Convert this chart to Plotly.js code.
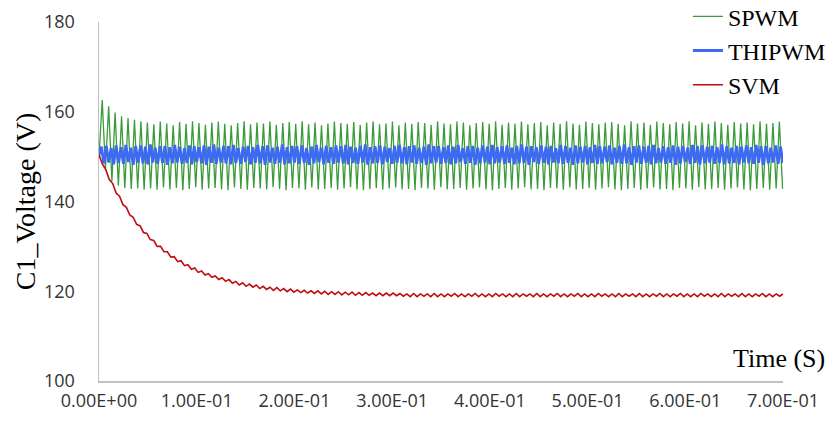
<!DOCTYPE html>
<html><head><meta charset="utf-8">
<script src="https://cdn.plot.ly/plotly-3.0.1.min.js"></script>
<style>html,body{margin:0;padding:0;background:#fff}#chart{width:836px;height:425px}</style>
</head><body><div id="chart"></div>
<script>
const seriesNames = ['SPWM', 'THIPWM', 'SVM'];
const xTickValues = [0, 0.1, 0.2, 0.3, 0.4, 0.5, 0.6, 0.7];
const xTickLabels = ['0.00E+00', '1.00E-01', '2.00E-01', '3.00E-01', '4.00E-01', '5.00E-01', '6.00E-01', '7.00E-01'];
const yTickValues = [100, 120, 140, 160, 180];
const xTitle = 'Time (S)';
const yTitle = 'C1_Voltage (V)';

// sampling intervals (s)
const spwmStep = 0.0033;
const thipwmStep = 0.0025;
const svmStep = 0.0035;

const spwmVoltage = [150.0,
162.6,147.3,161.2,144.6,159.8,143.5,159.0,143.0,158.6,142.8,158.2,142.9,157.9,142.6,
157.6,142.9,157.2,142.6,157.8,143.1,157.4,142.7,157.0,143.0,157.7,142.5,157.3,142.8,157.9,143.2,157.5,142.6,157.1,142.9,
157.6,143.0,157.8,142.7,157.3,142.5,157.0,143.1,157.5,142.8,157.9,142.6,157.2,143.0,157.6,142.9,157.4,142.7,157.8,143.2,
157.1,142.8,157.5,142.5,157.7,143.0,157.3,142.9,157.9,142.6,157.2,143.1,157.6,142.7,157.0,142.8,157.4,143.0,157.8,142.6,
157.5,142.9,157.3,143.2,157.7,142.7,157.1,142.5,157.6,142.8,157.9,143.0,157.2,142.6,157.4,142.9,157.8,143.1,157.0,142.7,
157.6,142.8,157.3,142.5,157.7,143.0,157.5,142.9,157.1,142.6,157.9,143.2,157.4,142.7,157.2,142.8,157.8,143.0,157.6,142.6,
157.0,142.9,157.5,143.1,157.7,142.7,157.3,142.5,157.9,142.8,157.1,143.0,157.6,142.6,157.4,142.9,157.8,143.2,157.2,142.7,
157.5,142.8,157.7,142.5,157.0,143.0,157.6,142.9,157.3,142.6,157.9,143.1,157.4,142.7,157.1,142.8,157.8,143.0,157.5,142.6,
157.2,142.9,157.6,143.2,157.7,142.7,157.3,142.5,157.0,142.8,157.9,143.0,157.4,142.6,157.6,142.9,157.1,143.1,157.8,142.7,
157.5,142.8,157.2,142.5,157.7,143.0,157.4,142.9,157.9,142.6,157.0,143.2,157.6,142.7,157.3,142.8,157.8,143.0,157.5,142.6,
157.1,142.9,157.7,143.1,157.4,142.7,157.6,142.5,157.2,142.8,157.9,143.0,157.3,142.6,157.5,142.9,157.8,142.8];

const thipwmVoltage = [150.3,
152.2,148.5,152.4,148.7,151.9,148.3,152.5,148.6,152.1,148.4,152.6,148.8,152.0,148.2,152.3,148.6,152.5,148.5,152.2,148.3,
152.7,148.7,152.0,148.4,152.3,148.6,152.4,148.2,152.1,148.5,152.6,148.7,152.2,148.4,151.9,148.6,152.5,148.3,152.3,148.8,
152.1,148.5,152.5,148.2,152.2,148.6,152.7,148.4,152.0,148.7,152.4,148.5,152.3,148.3,152.6,148.6,151.9,148.4,152.2,148.8,
152.4,148.3,152.1,148.6,152.6,148.5,152.3,148.2,152.5,148.7,152.0,148.4,152.2,148.6,152.7,148.3,152.1,148.5,152.4,148.7,
152.3,148.4,152.5,148.6,151.9,148.2,152.2,148.5,152.6,148.8,152.0,148.3,152.4,148.6,152.1,148.4,152.5,148.7,152.3,148.5,
152.6,148.3,152.2,148.6,152.0,148.4,152.4,148.7,152.7,148.2,152.1,148.5,152.3,148.6,152.5,148.3,152.2,148.8,151.9,148.4,
152.4,148.6,152.6,148.5,152.1,148.3,152.3,148.7,152.5,148.4,152.0,148.6,152.2,148.2,152.7,148.5,152.3,148.7,152.4,148.4,
152.1,148.6,152.5,148.3,152.2,148.5,152.6,148.8,151.9,148.4,152.3,148.6,152.4,148.2,152.0,148.5,152.5,148.7,152.2,148.3,
152.6,148.5,152.1,148.7,152.3,148.4,152.5,148.6,152.0,148.3,152.4,148.5,152.7,148.6,152.2,148.2,152.3,148.8,152.1,148.4,
152.5,148.6,152.2,148.3,152.4,148.7,151.9,148.5,152.6,148.4,152.3,148.6,152.0,148.2,152.5,148.5,152.2,148.7,152.4,148.3,
152.1,148.6,152.6,148.4,152.3,148.5,152.2,148.8,152.5,148.3,152.0,148.6,152.4,148.4,152.7,148.5,152.1,148.2,152.3,148.7,
152.5,148.4,152.2,148.6,152.4,148.3,152.6,148.5,151.9,148.7,152.3,148.4,152.1,148.6,152.5,148.2,152.2,148.5,152.4,148.8,
152.0,148.4,152.6,148.6,152.3,148.3,152.5,148.5,152.2,148.7,152.4,148.4,152.1,148.6,152.7,148.3,152.3,148.5,152.0,148.6,
152.4,148.3,152.2,148.7,152.5,148.5,152.1,148.4,152.6,148.6,152.3,148.2,152.4,148.5,152.0,148.7,152.5,148.4,152.2,148.6];

const svmVoltage = [
150.4,148.3,147.1,144.9,144.0,141.9,141.2,139.3,138.7,137.0,
136.5,134.9,134.6,133.1,132.9,131.5,131.3,130.0,130.0,128.8,
128.8,127.6,127.7,126.6,126.8,125.7,125.9,124.9,125.2,124.2,
124.5,123.6,123.9,123.1,123.4,122.6,123.0,122.2,122.6,121.8,
122.2,121.4,121.9,121.1,121.6,120.9,121.4,120.6,121.1,120.4,
120.9,120.2,120.8,120.1,120.6,119.9,120.5,119.8,120.3,119.7,
120.2,119.6,120.1,119.5,120.1,119.4,120.0,119.3,119.9,119.3,
119.9,119.2,119.8,119.2,119.8,119.1,119.7,119.1,119.7,119.1,
119.6,119.0,119.6,119.0,119.6,119.0,119.6,119.0,119.5,118.9,
119.4,118.8,119.5,118.8,119.4,118.9,119.4,118.8,119.5,118.8,
119.4,118.8,119.4,118.9,119.5,118.8,119.4,118.8,119.4,118.9,
119.5,118.8,119.4,118.8,119.4,118.8,119.5,118.9,119.4,118.8,
119.4,118.8,119.5,118.8,119.4,118.9,119.4,118.8,119.5,118.8,
119.4,118.8,119.4,118.9,119.5,118.8,119.4,118.8,119.4,118.9,
119.5,118.8,119.4,118.8,119.4,118.8,119.5,118.9,119.4,118.8,
119.4,118.8,119.5,118.8,119.4,118.9,119.4,118.8,119.5,118.8,
119.4,118.8,119.4,118.9,119.5,118.8,119.4,118.8,119.4,118.9,
119.5,118.8,119.4,118.8,119.4,118.8,119.5,118.9,119.4,118.8,
119.4,118.8,119.5,118.8,119.4,118.9,119.4,118.8,119.5,118.8,
119.4,118.8,119.4,118.9,119.5,118.8,119.4,118.8,119.4,118.9,
119.4];

function timeAxis(n, step) {
  return Array.from({length: n}, (_, i) => +(i * step).toFixed(6));
}

const serif = '"Liberation Serif", "Times New Roman", serif';
const sans = '"Open Sans", "Noto Sans", sans-serif';

const traces = [
  {type: 'scatter', mode: 'lines', name: seriesNames[0],
   x: timeAxis(spwmVoltage.length, spwmStep), y: spwmVoltage,
   line: {color: '#3a9b3a', width: 1.3, simplify: false}},
  {type: 'scatter', mode: 'lines', name: seriesNames[1],
   x: timeAxis(thipwmVoltage.length, thipwmStep), y: thipwmVoltage,
   line: {color: '#3d6af5', width: 2.8, simplify: false}},
  {type: 'scatter', mode: 'lines', name: seriesNames[2],
   x: timeAxis(svmVoltage.length, svmStep), y: svmVoltage,
   line: {color: '#c00d12', width: 1.6, simplify: false}}
];

const layout = {
  width: 836, height: 425,
  margin: {l: 99, r: 53, t: 22, b: 44, autoexpand: false},
  paper_bgcolor: '#ffffff', plot_bgcolor: '#ffffff',
  showlegend: true,
  legend: {x: 0.861, xanchor: 'left', y: 1.0774, yanchor: 'top',
           font: {family: serif, size: 24, color: '#000'},
           bgcolor: 'rgba(0,0,0,0)', borderwidth: 0, tracegroupgap: 0},
  xaxis: {range: [0, 0.7], tickvals: xTickValues, ticktext: xTickLabels,
          showgrid: false, zeroline: false, showline: true,
          linecolor: '#c0c0c0', linewidth: 1.5, ticks: '',
          ticklabelstandoff: 3,
          tickfont: {family: sans, size: 18, color: '#333'}, fixedrange: true},
  yaxis: {range: [100, 180], tickvals: yTickValues,
          showgrid: false, zeroline: false, showline: true,
          linecolor: '#c0c0c0', linewidth: 1.5, ticks: '',
          ticklabelstandoff: 19,
          tickfont: {family: sans, size: 18, color: '#333'},
          title: {text: yTitle, font: {family: serif, size: 28, color: '#000'}, standoff: 0},
          fixedrange: true},
  annotations: [{text: xTitle, xref: 'paper', yref: 'paper', x: 1.064, y: 0.064,
                 xanchor: 'right', yanchor: 'middle', showarrow: false,
                 font: {family: serif, size: 26, color: '#000'}}]
};

Plotly.newPlot('chart', traces, layout, {displayModeBar: false, staticPlot: true});
</script>
</body></html>
